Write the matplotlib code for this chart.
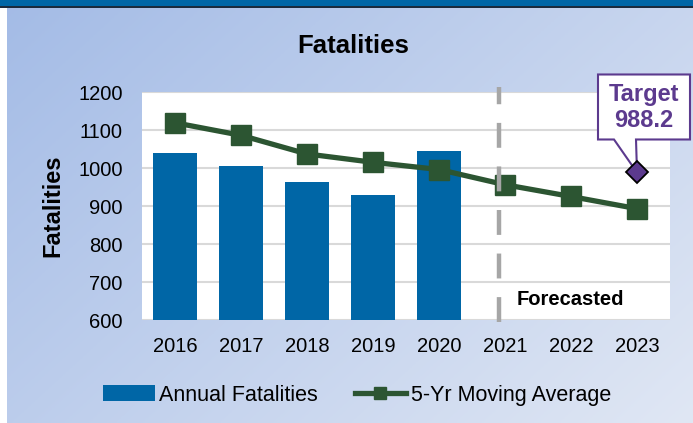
import numpy as np
import matplotlib
matplotlib.use('Agg')
import matplotlib.pyplot as plt
import matplotlib.transforms as mtransforms
from matplotlib.patches import Rectangle, Polygon, Patch
from matplotlib.lines import Line2D

plt.rcParams['font.family'] = ['Liberation Sans', 'DejaVu Sans']

years = ['2016', '2017', '2018', '2019', '2020', '2021', '2022', '2023']
annual = [1040, 1005, 963, 930, 1045]
moving_avg = [1119, 1086, 1037, 1015, 996, 956, 925, 893]
target_value = 988.2
y_ticks = [600, 700, 800, 900, 1000, 1100, 1200]

bar_color = '#0066a6'
line_color = '#2c5532'
purple = '#5c3a8e'

fig = plt.figure(figsize=(6.93, 4.23), dpi=100)

# gradient background
bg = fig.add_axes([0, 0, 1, 1], zorder=-10)
gx, gy = np.meshgrid(np.linspace(0, 1, 200), np.linspace(0, 1, 200))
t = (gx * 0.6 + gy * 0.4)
c0 = np.array([0xa3, 0xbb, 0xe6]) / 255.0
c1 = np.array([0xe0, 0xe7, 0xf4]) / 255.0
img = c0[None, None, :] * (1 - t[..., None]) + c1[None, None, :] * t[..., None]
bg.imshow(img, extent=[0, 1, 0, 1], aspect='auto', origin='upper')
bg.set_xlim(0, 1)
bg.set_ylim(0, 1)
bg.axis('off')
# top banner and left strip
bg.add_patch(Rectangle((0, 1 - 6 / 423), 1, 6 / 423, color='#0066a6', lw=0))
bg.add_patch(Rectangle((0, 1 - 8 / 423), 1, 2 / 423, color='#1b2a3c', lw=0))
bg.add_patch(Rectangle((0, 0), 7 / 693, 1 - 8 / 423, color='white', lw=0))

ax = fig.add_axes([142 / 693, 103 / 423, 528 / 693, 228 / 423])
ax.set_facecolor('white')
x = np.arange(len(years))

ax.bar(x[:len(annual)], annual, width=0.67, color=bar_color, zorder=2)
ax.plot(x, moving_avg, '-s', color=line_color, lw=3.8, markersize=14, zorder=4)

ax.set_xlim(-0.5, len(years) - 0.5)
ax.set_ylim(600, 1200)
ax.set_yticks(y_ticks)
ax.set_xticks(x)
ax.set_xticklabels(years)
ax.tick_params(length=0, labelsize=14.5, colors='black')
ax.tick_params(axis='y', pad=14)
ax.tick_params(axis='x', pad=12)
ax.yaxis.grid(True, color='#d9d9d9', lw=1.5, zorder=0)
ax.set_axisbelow(True)
for s in ax.spines.values():
    s.set_visible(False)

ax.set_ylabel('Fatalities', fontsize=17, fontweight='bold', labelpad=10)
fig.text(353 / 693, 1 - 46 / 423, 'Fatalities', fontsize=18.5, fontweight='bold',
         ha='center', va='center')

# forecast divider
ax.axvline(4.91, ymin=-0.01, ymax=1.02, color='#a6a6a6', lw=3.2,
           dashes=(5.6, 4.2), zorder=5, clip_on=False)
ax.text(5.18, 655, 'Forecasted', fontsize=14.5, fontweight='bold', ha='left',
        va='center', zorder=6)

# target callout
tx, ty = len(years) - 1, target_value
trans = fig.dpi_scale_trans + mtransforms.ScaledTranslation(tx, ty, ax.transData)
callout = np.array([(-39, 33), (-23, 33), (0, 0), (-1, 33), (53, 33),
                    (53, 98), (-39, 98)]) / 100.0
ax.add_patch(Polygon(callout, closed=True, transform=trans, facecolor='white',
                     edgecolor=purple, lw=1.5, zorder=7, clip_on=False))
ax.plot([tx], [ty], 'D', color=purple, markeredgecolor='black', markersize=11,
        mew=1.3, zorder=8)
ax.annotate('Target\n988.2', xy=(tx, ty), xytext=(5, 47),
            textcoords='offset points', ha='center', va='center',
            fontsize=17, fontweight='bold', color=purple, linespacing=1.15,
            zorder=9, annotation_clip=False)

handles = [Patch(facecolor=bar_color, label='Annual Fatalities'),
           Line2D([], [], color=line_color, lw=3.8, marker='s', markersize=8,
                  label='5-Yr Moving Average')]
fig.legend(handles=handles, loc='center', bbox_to_anchor=(357 / 693, 1 - 395 / 423),
           ncol=2, frameon=False, fontsize=15.5, handlelength=2.4,
           handletextpad=0.2, columnspacing=1.7, handleheight=0.7)

plt.savefig('out.png', dpi=100)
